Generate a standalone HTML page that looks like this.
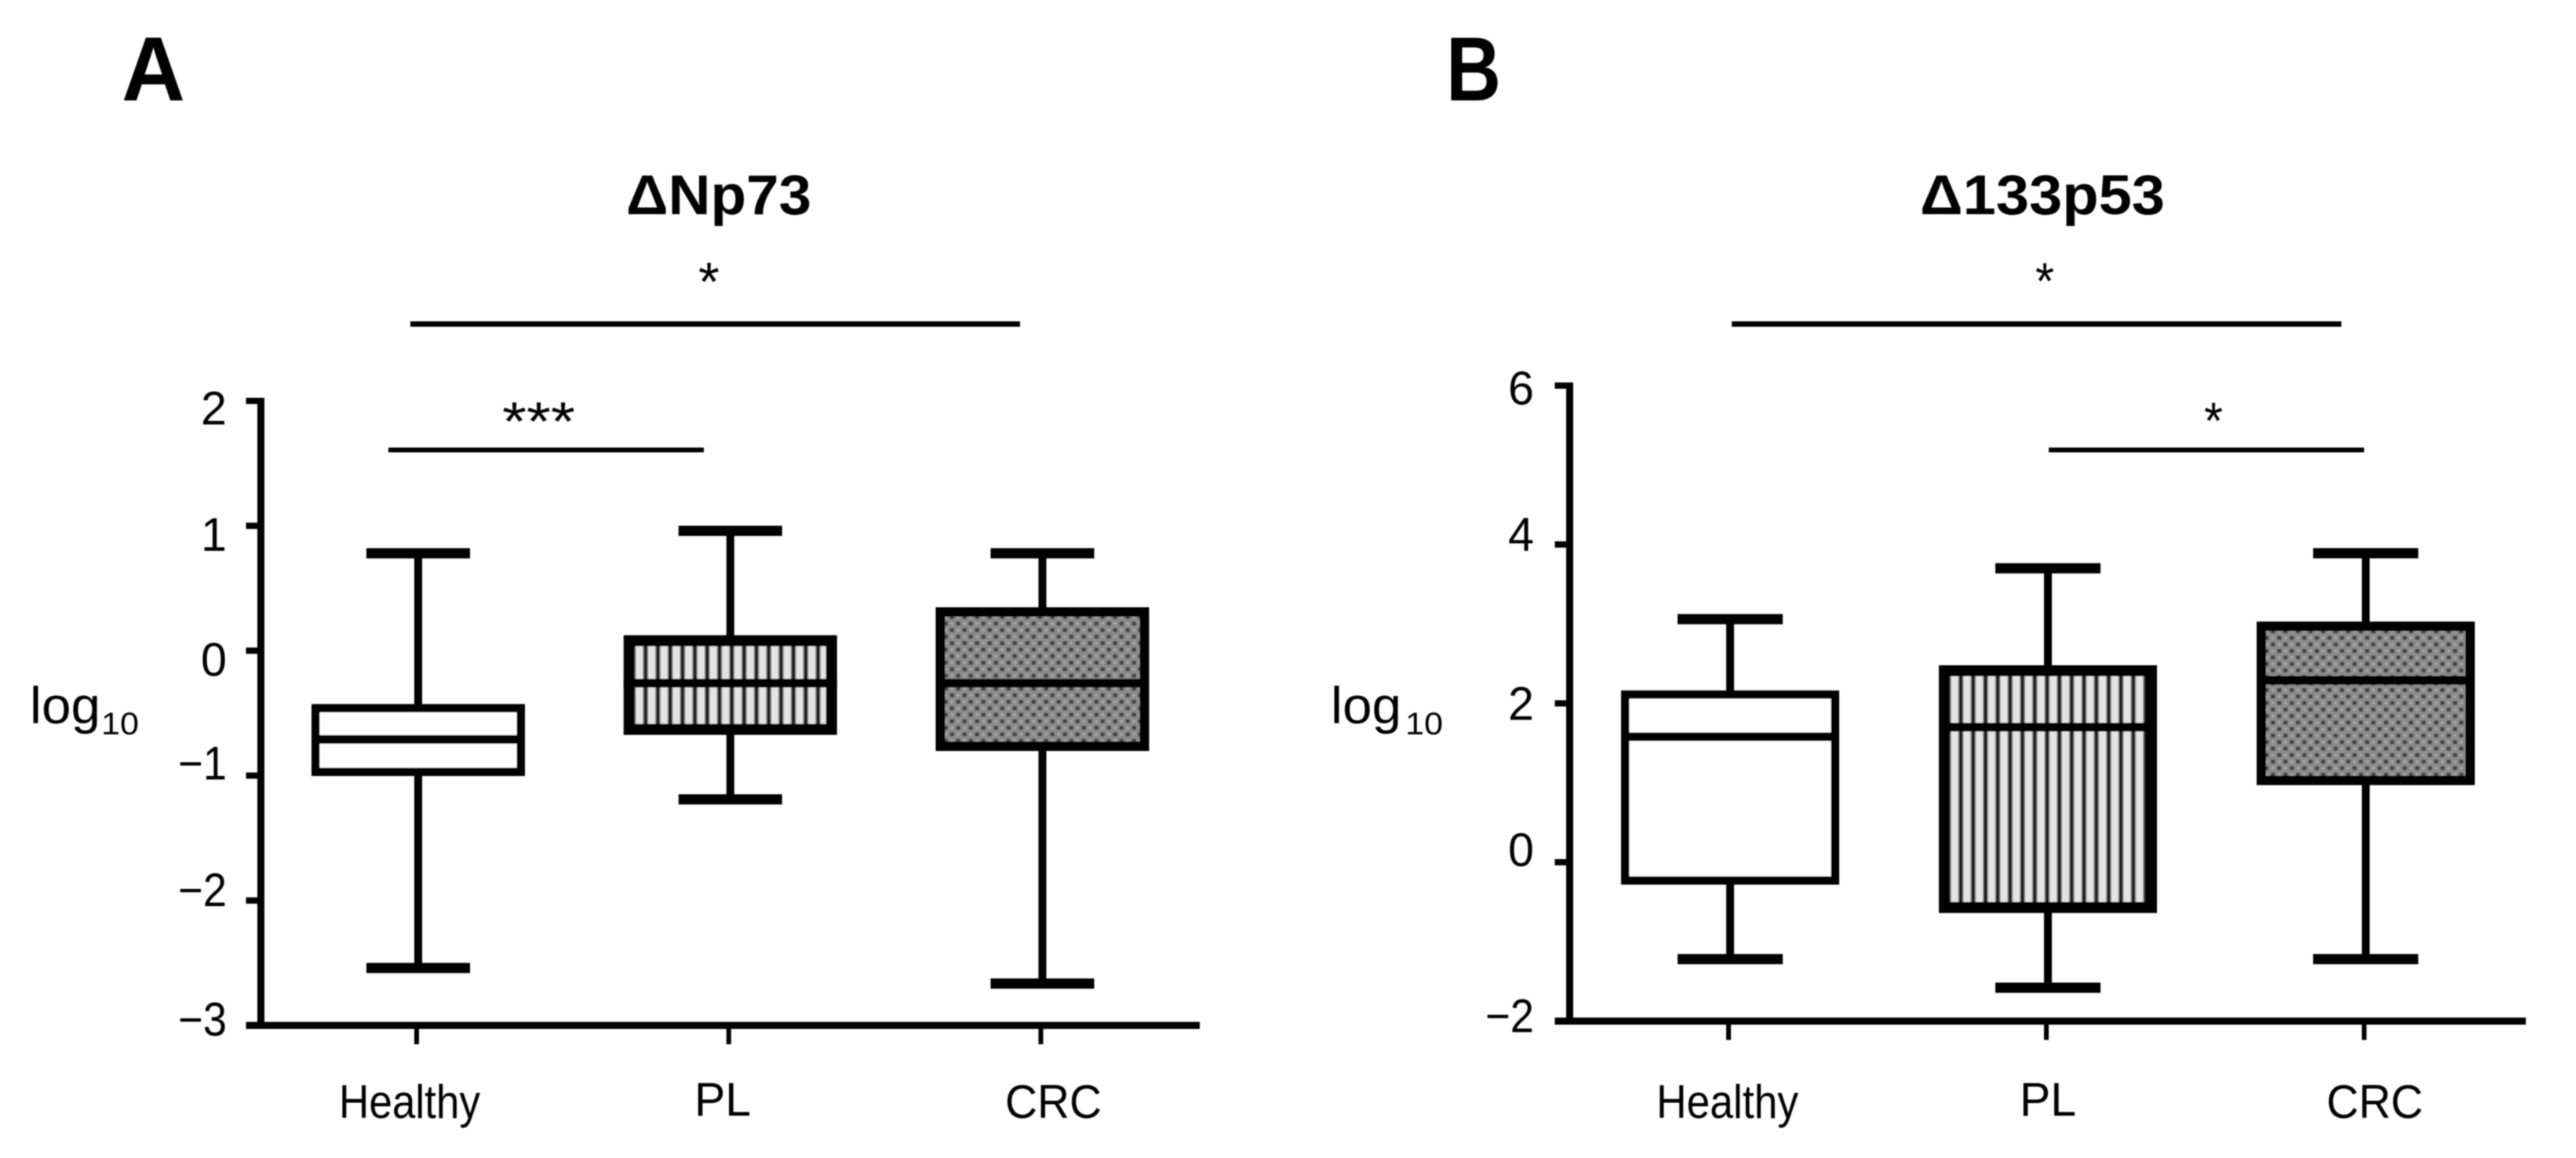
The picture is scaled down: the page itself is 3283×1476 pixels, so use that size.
<!DOCTYPE html>
<html lang="en">
<head>
<meta charset="utf-8">
<title>ΔNp73 and Δ133p53 expression box plots</title>
<style>
  html, body { margin: 0; padding: 0; background: #fff; }
  svg { display: block; }
  text { font-family: "Liberation Sans", Arial, sans-serif; fill: #000; }
</style>
</head>
<body>
<svg id="figure" xmlns="http://www.w3.org/2000/svg" width="3283" height="1476" viewBox="0 0 3283 1476">
  <defs>
    <filter id="soft" x="0" y="0" width="3283" height="1476" filterUnits="userSpaceOnUse"><feGaussianBlur stdDeviation="0.9"/></filter>
  </defs>
  <rect width="3283" height="1476" fill="#ffffff"/>
  <g id="root" filter="url(#soft)">
    <g id="panelA">
      <text x="155" y="128" font-size="116" font-weight="700" textLength="81" lengthAdjust="spacingAndGlyphs">A</text>
      <text x="798" y="273" font-size="71" font-weight="700" textLength="236" lengthAdjust="spacingAndGlyphs">ΔNp73</text>
      <rect x="523" y="409.5" width="777" height="7" fill="#000"/>
      <text x="890" y="383" font-size="70" textLength="27" lengthAdjust="spacingAndGlyphs">*</text>
      <rect x="495" y="570.5" width="402" height="6" fill="#000"/>
      <text x="640" y="561" font-size="70" textLength="93" lengthAdjust="spacingAndGlyphs">***</text>
      <text x="38" y="922" font-size="66" textLength="90" lengthAdjust="spacingAndGlyphs">log</text>
      <text x="129" y="936" font-size="40" textLength="48" lengthAdjust="spacingAndGlyphs">10</text>
    </g>
    <g id="panelB">
      <text x="1843" y="128" font-size="116" font-weight="700" textLength="70" lengthAdjust="spacingAndGlyphs">B</text>
      <text x="2447" y="273" font-size="71" font-weight="700" textLength="312" lengthAdjust="spacingAndGlyphs">Δ133p53</text>
      <rect x="2207" y="409.5" width="777" height="7" fill="#000"/>
      <text x="2594" y="381" font-size="66" textLength="24" lengthAdjust="spacingAndGlyphs">*</text>
      <rect x="2611" y="570.5" width="402" height="6" fill="#000"/>
      <text x="2809" y="559" font-size="66" textLength="24" lengthAdjust="spacingAndGlyphs">*</text>
      <text x="1696" y="922" font-size="66" textLength="90" lengthAdjust="spacingAndGlyphs">log</text>
      <text x="1791" y="936" font-size="40" textLength="48" lengthAdjust="spacingAndGlyphs">10</text>
    </g>
  </g>
</svg>
<script>
// ---- data ----
const categories = ["Healthy", "PL", "CRC"];

const ticksA = [2, 1, 0, -1, -2, -3];
const whiskerHighA = [0.78, 0.96, 0.78];
const upperQuartileA = [-0.46, 0.08, 0.31];
const medianA = [-0.71, -0.26, -0.26];
const lowerQuartileA = [-0.97, -0.63, -0.765];
const whiskerLowA = [-2.54, -1.19, -2.665];

const ticksB = [6, 4, 2, 0, -2];
const whiskerHighB = [3.06, 3.70, 3.89];
const upperQuartileB = [2.11, 2.41, 2.97];
const medianB = [1.58, 1.70, 2.29];
const lowerQuartileB = [-0.23, -0.57, 1.03];
const whiskerLowB = [-1.22, -1.58, -1.22];

// ---- drawing ----
const NS = "http://www.w3.org/2000/svg";

function make(parent, tag, attrs, content) {
  const node = document.createElementNS(NS, tag);
  for (const key in attrs) node.setAttribute(key, attrs[key]);
  if (content !== undefined) node.textContent = content;
  parent.appendChild(node);
  return node;
}

const defs = document.querySelector("#figure defs");

function stripePattern(id, boxLeft) {
  const p = make(defs, "pattern", { id: id, patternUnits: "userSpaceOnUse", x: boxLeft + 12.3 - 7.85, y: 0, width: 15.7, height: 40 });
  make(p, "rect", { width: 15.7, height: 40, fill: "#e4e4e4" });
  make(p, "rect", { x: 4.35, width: 7, height: 40, fill: "#8c8c8c" });
  make(p, "rect", { x: 5.85, width: 4, height: 40, fill: "#1c1c1c" });
}

function dotPattern(id, boxLeft, boxTop) {
  const p = make(defs, "pattern", { id: id, patternUnits: "userSpaceOnUse", x: boxLeft + 2, y: boxTop + 4, width: 16, height: 16.6 });
  make(p, "rect", { width: 16, height: 16.6, fill: "#8b8b8b" });
  make(p, "rect", { x: 0, y: 0, width: 5.5, height: 5, fill: "#454545" });
  make(p, "rect", { x: 8, y: 8.3, width: 5.5, height: 5, fill: "#454545" });
  make(p, "rect", { x: 9, y: 1, width: 3.5, height: 3, fill: "#a9a9a9" });
  make(p, "rect", { x: 1, y: 9.3, width: 3.5, height: 3, fill: "#a9a9a9" });
}

function drawPanel(groupId, prefix, layout, ticks, hi, q3, med, q1, lo) {
  const group = document.getElementById(groupId);
  const yScale = v => layout.yZero - layout.yUnit * v;
  const xScale = i => layout.xFirst + layout.xStep * i;
  const yMax = Math.max.apply(null, ticks);
  const yMin = Math.min.apply(null, ticks);

  categories.forEach((name, i) => {
    const slug = name.toLowerCase();
    const cx = xScale(i);
    const sw = layout.boxStroke[i];

    const whisker = make(group, "line", { x1: cx, x2: cx, y1: yScale(hi[i]), y2: yScale(lo[i]), stroke: "#000", "stroke-width": 10 });
    
    

    const capHigh = make(group, "rect", { x: cx - layout.capHalf, y: yScale(hi[i]) - 6.5, width: layout.capHalf * 2, height: 13, fill: "#000" });
    
    

    const capLow = make(group, "rect", { x: cx - layout.capHalf, y: yScale(lo[i]) - 6.5, width: layout.capHalf * 2, height: 13, fill: "#000" });
    
    

    const left = cx - layout.boxHalf;
    const top = yScale(q3[i]);
    let fill = "#ffffff";
    if (i === 1) {
      stripePattern(prefix + "-stripes", left);
      fill = "url(#" + prefix + "-stripes)";
    } else if (i === 2) {
      dotPattern(prefix + "-dots", left, top);
      fill = "url(#" + prefix + "-dots)";
    }

    const box = make(group, "rect", {
      x: left + sw / 2, y: top,
      width: layout.boxHalf * 2 - sw, height: yScale(q1[i]) - top,
      fill: fill, stroke: "#000", "stroke-width": sw
    });
    
    

    const medianLine = make(group, "rect", { x: left, y: yScale(med[i]) - 5.5, width: layout.boxHalf * 2, height: 11, fill: "#000" });
    
    

    const xTick = make(group, "rect", { x: cx - 5, y: yScale(yMin), width: 6, height: 24, fill: "#000" });
    
    

    const xLabel = make(group, "text", {
      x: layout.labelLeft[i], y: i === 1 ? 1422 : 1425, "font-size": 60,
      textLength: layout.labelWidth[i], lengthAdjust: "spacingAndGlyphs"
    }, name);
    
    
  });

  const yAxis = make(group, "rect", { x: layout.axisX - 4.5, y: yScale(yMax) - 4, width: 9, height: yScale(yMin) - yScale(yMax) + 8, fill: "#000" });
  
  

  const xAxis = make(group, "rect", { x: layout.axisX - 19, y: yScale(yMin) - 4.5, width: layout.axisEnd - layout.axisX + 19, height: 9, fill: "#000" });
  
  

  ticks.forEach(v => {
    const tick = make(group, "rect", { x: layout.axisX - 19, y: yScale(v) - 4, width: 19, height: 8, fill: "#000" });
    
    

    const str = v < 0 ? "\u2212" + Math.abs(v) : String(v);
    const len = v < 0 ? 62 : 33;
    const nudge = layout.labelNudge[v] !== undefined ? layout.labelNudge[v] : 15;
    const label = make(group, "text", {
      x: layout.labelRight - len, y: yScale(v) + nudge, "font-size": 60,
      textLength: len, lengthAdjust: "spacingAndGlyphs"
    }, str);
    
    
  });
}

drawPanel("panelA", "panel-a", {
  yZero: 829.4, yUnit: 159.2, xFirst: 533, xStep: 397.75,
  boxHalf: 136, capHalf: 66, boxStroke: [10.5, 14, 12],
  axisX: 332.5, axisEnd: 1529, labelRight: 289,
  labelNudge: { "2": 30, "1": 32, "0": 32, "-1": 5, "-2": 7, "-3": 13 },
  labelLeft: [432, 885, 1281], labelWidth: [180, 72, 123]
}, ticksA, whiskerHighA, upperQuartileA, medianA, lowerQuartileA, whiskerLowA);

drawPanel("panelB", "panel-b", {
  yZero: 1099, yUnit: 101.25, xFirst: 2205, xStep: 405,
  boxHalf: 139, capHalf: 67, boxStroke: [10.5, 14, 12],
  axisX: 2000.5, axisEnd: 3219, labelRight: 1955,
  labelNudge: { "6": 24, "4": 8, "2": 21, "0": 5, "-2": 14 },
  labelLeft: [2111, 2574, 2965], labelWidth: [181, 72, 123]
}, ticksB, whiskerHighB, upperQuartileB, medianB, lowerQuartileB, whiskerLowB);
</script>
</body>
</html>
